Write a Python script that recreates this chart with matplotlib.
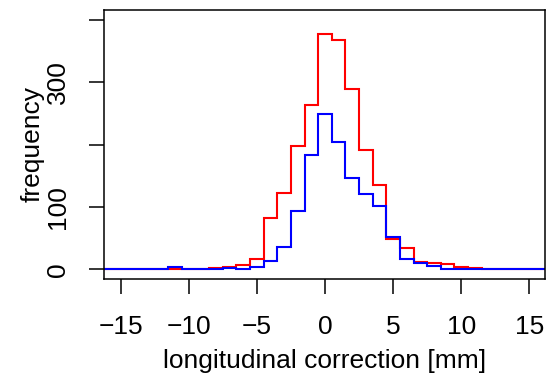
import numpy as np
import matplotlib
matplotlib.use("Agg")
import matplotlib.pyplot as plt

# bin centres (mm), bin width 1
centers = list(range(-16, 17))
red_counts = [0, 0, 0, 0, 0, 0, 0, 0, 2, 4, 7, 17, 82, 123, 198, 263, 377,
              368, 290, 192, 136, 48, 34, 11, 10, 8, 3, 2, 1, 0, 0, 0, 0]
blue_counts = [0, 0, 0, 0, 0, 3, 0, 1, 1, 2, 0, 4, 13, 35, 94, 183, 250,
               205, 146, 121, 101, 52, 17, 10, 6, 1, 0, 0, 0, 0, 0, 0, 0]
x_ticks = [-15, -10, -5, 0, 5, 10, 15]
y_ticks = [0, 100, 200, 300, 400]
y_tick_labels = ["0", "100", "", "300", ""]

plt.rcParams['font.family'] = ['Liberation Sans', 'DejaVu Sans']

fig = plt.figure(figsize=(5.52, 3.83), dpi=100)
ax = fig.add_axes([0.189, 0.2723, 0.799, 0.7016])

edges = np.array(centers + [centers[-1] + 1], dtype=float) - 0.5
ax.stairs(red_counts, edges, color='#ff0000', lw=1.5, baseline=None)
ax.stairs(blue_counts, edges, color='#0000ff', lw=1.5, baseline=None)

ax.set_xlim(-16.2, 16.17)
ax.set_ylim(-15.1, 416.2)

ax.set_xticks(x_ticks)
ax.set_xticklabels([f"\u2212{abs(t)}" if t < 0 else str(t) for t in x_ticks])
ax.set_yticks(y_ticks)
ax.set_yticklabels(y_tick_labels, rotation=90, va='center')

ax.tick_params(axis='both', direction='out', length=11, width=1.1,
               labelsize=19, color='black')
ax.tick_params(axis='x', pad=15)
ax.tick_params(axis='y', pad=14)

for s in ax.spines.values():
    s.set_linewidth(1.1)
    s.set_color('black')

ax.set_xlabel("longitudinal correction [mm]", fontsize=19, labelpad=7)
ax.set_ylabel("frequency", fontsize=19, labelpad=1)

fig.savefig("out.png", dpi=100)
